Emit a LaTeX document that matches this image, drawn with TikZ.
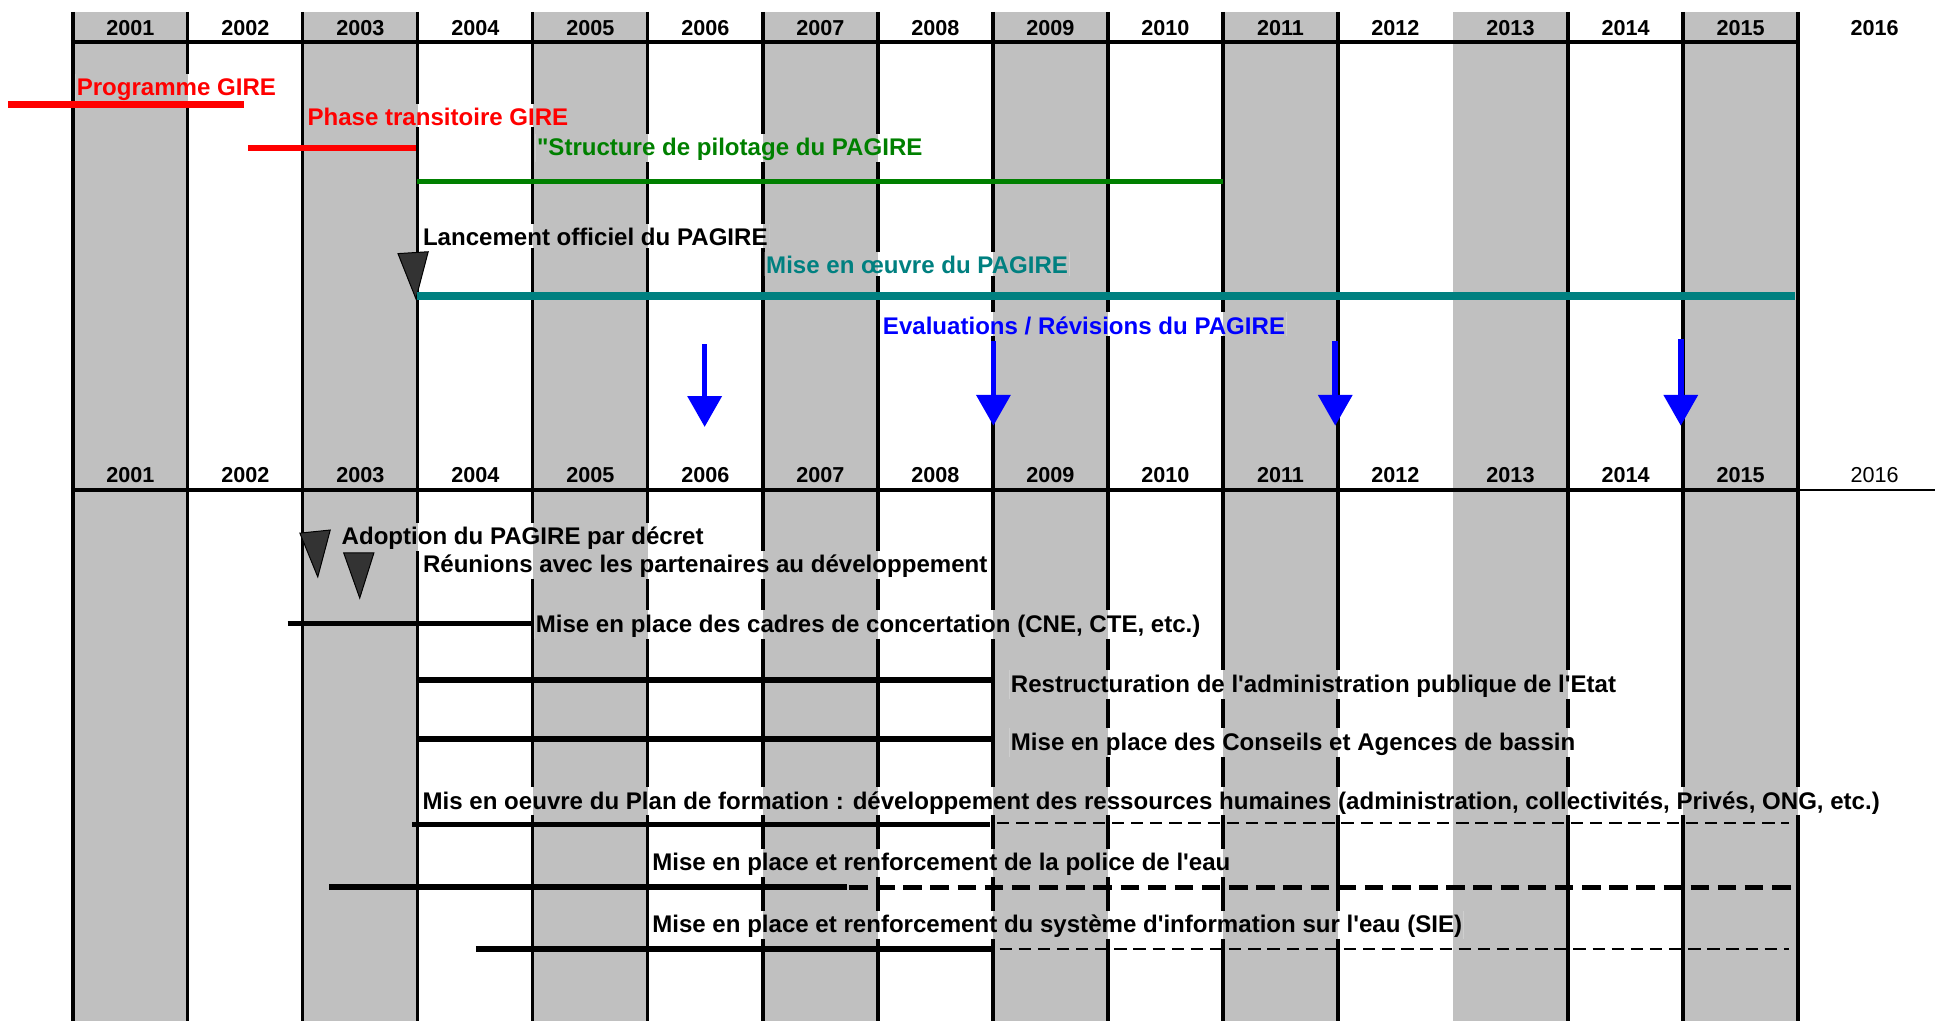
\documentclass[tikz,border=0pt]{standalone}
\usepackage{fontspec}
\setmainfont{Liberation Sans}[Ligatures=TeXOff]
\usetikzlibrary{arrows.meta}
\definecolor{colgray}{RGB}{192,192,192}
\definecolor{tricol}{RGB}{51,51,51}
\definecolor{pgreen}{RGB}{0,128,0}
\definecolor{pteal}{RGB}{0,128,128}
\definecolor{pblue}{RGB}{0,0,255}
\definecolor{pred}{RGB}{255,0,0}
\pgfdeclarelayer{gridlayer}
\pgfdeclarelayer{gaplayer}
\pgfsetlayers{gridlayer,gaplayer,main}
\newcommand\colfills{%
  \fill[white] (0,0) rectangle (1568,827);
  \foreach \i in {0,2,...,14}{
    \fill[colgray] ({59+\i*93.2},9.7) rectangle ({59+(\i+1)*93.2},827);
  }}
\newcommand\labelgap[1]{%
  \begin{pgfonlayer}{gaplayer}
  \begin{scope}
    \clip ([xshift=-1pt,yshift=3pt]#1.north west) rectangle ([xshift=1pt,yshift=-0.5pt]#1.south east);
    \colfills
  \end{scope}
  \end{pgfonlayer}}
\begin{document}
\begin{tikzpicture}[x=1pt,y=-1pt,
  lbl/.style={font=\fontsize{19.5}{22}\selectfont\bfseries, anchor=base west, inner sep=0pt},
  yr/.style={font=\fontsize{17.5}{20}\selectfont\bfseries, anchor=base, inner sep=0pt},
  grid/.style={line width=2.6pt, black},
  axis/.style={line width=3.6pt, black},
  tri/.style={fill=tricol, draw=black, line width=0.8pt, line join=miter},
  evarrow/.style={line width=4.5pt, pblue, -{Triangle[width=27pt,length=25pt]}},
  thindash/.style={line width=2pt, black, dash pattern=on 10pt off 5.5pt},
  thickdash/.style={line width=3.6pt, black, dash pattern=on 15pt off 7pt}]
\useasboundingbox (0,0) rectangle (1568,827);
\begin{pgfonlayer}{gridlayer}
\colfills
% vertical grid lines
\draw[grid, line width=3.2pt] (59,9.7) -- (59,827);
\foreach \i in {1,...,11,13,14,15}{
  \draw[grid] ({59+\i*93.2},9.7) -- ({59+\i*93.2},827);
}
\end{pgfonlayer}
% axes
\draw[axis] (57.5,34) -- (1458,34);
\draw[axis] (57.5,397) -- (1458,397);
\draw[line width=2pt] (1458,397) -- (1568,397);
% year labels
\foreach \i in {0,...,14}{
  \pgfmathtruncatemacro\yy{2001+\i}
  \node[yr] (top\i) at ({59+(\i+0.5)*93.2},28.9) {\yy};
  \node[yr] (bot\i) at ({59+(\i+0.5)*93.2},391) {\yy};
}
\node[yr] (top15) at (1519,28.9) {2016};
\node[yr, font=\fontsize{17.5}{20}\selectfont] (bot15) at (1519,391) {2016};

% --- upper part
\draw[line width=5.5pt, pred] (6.5,84.5) -- (198,84.5);
\node[lbl, pred] (prog) at (62,77.5) {Programme GIRE};
\draw[line width=5.5pt, pred] (201,120) -- (337.5,120);
\node[lbl, pred] (phase) at (249,101.8) {Phase transitoire GIRE};
\draw[line width=4.5pt, pgreen] (338,147) -- (991,147);
\node[lbl, pgreen] (pilot) at (435,126.4) {"Structure de pilotage du PAGIRE};
\node[lbl] (lanc) at (342.6,199.3) {Lancement officiel du PAGIRE};
\draw[tri] (322.5,205.5) -- (347,204) -- (337,242) -- cycle;
\draw[line width=6pt, pteal] (338,240) -- (1454.5,240);
\node[lbl, pteal] (mise) at (620.7,222) {Mise en œuvre du PAGIRE};
\node[lbl, pblue] (eval) at (715.3,271) {Evaluations / Révisions du PAGIRE};
\draw[evarrow] (571,279) -- (571,346);
\draw[evarrow] (805,276) -- (805,345);
\draw[evarrow] (1082,276) -- (1082,345);
\draw[evarrow] (1362,275) -- (1362,345);

% --- lower part
\draw[tri] (243,432) -- (267.6,429.5) -- (257.5,467.5) -- cycle;
\draw[tri] (278.5,448) -- (303,448) -- (291.5,484.6) -- cycle;
\node[lbl] (adopt) at (276.7,441.6) {Adoption du PAGIRE par décret};
\node[lbl] (reun) at (342.6,464) {Réunions avec les partenaires au développement};

\draw[line width=4pt] (233,505) -- (430.6,505);
\node[lbl] (cadres) at (434,512.4) {Mise en place des cadres de concertation (CNE, CTE, etc.)};

\draw[line width=5.5pt] (338,551) -- (803,551);
\node[lbl] (restr) at (819,561) {Restructuration de l'administration publique de l'Etat};

\draw[line width=4.5pt] (338,599) -- (803,599);
\node[lbl] (cons) at (819,607.8) {Mise en place des Conseils et Agences de bassin};

\node[lbl] (form) at (342.3,655.6) {Mis en oeuvre du Plan de formation : développement des ressources humaines (administration, collectivités, Privés, ONG, etc.)};
\draw[line width=4pt] (334,668) -- (802,668);
\draw[thindash] (808,667) -- (1450,667);

\node[lbl] (police) at (528.4,705.6) {Mise en place et renforcement de la police de l'eau};
\draw[line width=5pt] (267,719) -- (686,719);
\draw[thickdash] (688,719) -- (1454,719);

\node[lbl] (sie) at (528.4,755.8) {Mise en place et renforcement du système d'information sur l'eau (SIE)};
\draw[line width=5pt] (385.7,769) -- (805,769);
\draw[thindash] (810,769) -- (1450,769);

% gaps in the grid lines behind the labels
\foreach \n in {prog,phase,pilot,lanc,mise,eval,adopt,reun,cadres,restr,cons,form,police,sie}{
  \labelgap{\n}
}
\end{tikzpicture}
\end{document}
